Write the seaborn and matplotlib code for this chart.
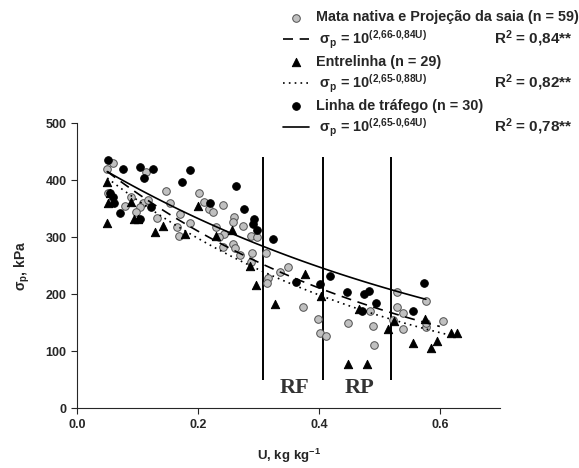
import numpy as np
import pandas as pd
import seaborn as sns
import matplotlib.pyplot as plt

# Mata nativa e Projecao da saia (grey circles)
mata_u = [0.049, 0.059, 0.114, 0.148, 0.090, 0.052, 0.057, 0.109, 0.104, 0.118,
          0.098, 0.132, 0.165, 0.169, 0.154, 0.187, 0.202, 0.210, 0.219, 0.225,
          0.242, 0.259, 0.258, 0.274, 0.243, 0.241, 0.258, 0.261, 0.288, 0.297,
          0.289, 0.288, 0.312, 0.316, 0.314, 0.349, 0.373, 0.399, 0.402, 0.412,
          0.448, 0.484, 0.490, 0.491, 0.529, 0.529, 0.539, 0.539, 0.577, 0.578,
          0.577, 0.605, 0.523, 0.235, 0.270, 0.230, 0.335, 0.170, 0.080]
mata_s = [420, 430, 415, 380, 371, 378, 362, 359, 353, 365,
          344, 333, 317, 302, 359, 325, 378, 362, 350, 344,
          357, 336, 327, 319, 305, 282, 288, 280, 302, 300,
          272, 257, 272, 228, 219, 248, 178, 156, 132, 126,
          150, 171, 144, 111, 204, 178, 166, 138, 188, 143,
          150, 153, 154, 300, 268, 318, 238, 340, 355]

# Entrelinha (triangles)
entre_u = [0.049, 0.055, 0.052, 0.049, 0.089, 0.094, 0.101, 0.129, 0.143, 0.179,
           0.200, 0.230, 0.257, 0.286, 0.296, 0.327, 0.377, 0.404, 0.448, 0.480,
           0.466, 0.515, 0.524, 0.555, 0.575, 0.586, 0.596, 0.619, 0.628]
entre_s = [397, 377, 359, 325, 362, 331, 331, 309, 319, 305,
           354, 302, 313, 249, 216, 182, 236, 196, 77, 77,
           174, 138, 153, 114, 156, 106, 118, 131, 131]

# Linha de trafego (black circles)
linha_u = [0.052, 0.076, 0.104, 0.126, 0.110, 0.173, 0.187, 0.055, 0.071, 0.123,
           0.104, 0.263, 0.277, 0.293, 0.291, 0.297, 0.324, 0.220, 0.419, 0.402,
           0.446, 0.475, 0.483, 0.494, 0.472, 0.555, 0.574, 0.363, 0.060, 0.062]
linha_s = [435, 420, 423, 419, 403, 397, 418, 377, 343, 353,
           332, 389, 349, 332, 323, 312, 296, 360, 232, 217,
           204, 201, 206, 185, 171, 171, 220, 222, 370, 360]

# fitted models sigma_p = 10^(a - b*U), from the legend
fit_a = [2.66, 2.65, 2.65]
fit_b = [0.84, 0.88, 0.64]
fit_range = [(0.05, 0.60), (0.05, 0.615), (0.05, 0.577)]
fit_r2 = ['0,84', '0,82', '0,78']

zones_u = [0.307, 0.407, 0.519]
zone_names = ['RF', 'RP']
zone_label_u = [0.360, 0.468]

df = pd.concat([
    pd.DataFrame({'U': mata_u, 'sp': mata_s, 'grupo': 'mata'}),
    pd.DataFrame({'U': entre_u, 'sp': entre_s, 'grupo': 'entre'}),
    pd.DataFrame({'U': linha_u, 'sp': linha_s, 'grupo': 'linha'}),
])

sns.set_style('ticks')
plt.rcParams['font.family'] = ['Liberation Sans', 'DejaVu Sans']
plt.rcParams['font.weight'] = 'bold'
plt.rcParams['mathtext.fontset'] = 'custom'
plt.rcParams['mathtext.rm'] = 'Liberation Sans:bold'
plt.rcParams['mathtext.bf'] = 'Liberation Sans:bold'
plt.rcParams['mathtext.it'] = 'Liberation Sans:bold'
plt.rcParams['mathtext.sf'] = 'Liberation Sans:bold'

fig = plt.figure(figsize=(5.79, 4.68), dpi=100)
ax = fig.add_axes([0.133, 0.128, 0.731, 0.609])

curves = []
for a, b, (u0, u1) in zip(fit_a, fit_b, fit_range):
    uu = np.linspace(u0, u1, 60)
    curves.append(pd.DataFrame({'U': uu, 'sp': 10 ** (a - b * uu)}))

def eq_label(a, b):
    return (r' $\sigma_{p}$ = 10$^{(%s\text{-}%s U)}$'
            % (f'{a:.2f}'.replace('.', '{,}'), f'{b:.2f}'.replace('.', '{,}')))

styles = [(0, (6, 4)), (0, (1, 2.5)), '-']
groups = [('mata', 'o', '#c0c0c0', '#505050', 'Mata nativa e Projeção da saia (n = 59)'),
          ('entre', '^', 'black', 'black', 'Entrelinha (n = 29)'),
          ('linha', 'o', 'black', 'black', 'Linha de tráfego (n = 30)')]

for i, (g, mk, fc, ec, lab) in enumerate(groups):
    sub = df[df['grupo'] == g]
    sns.scatterplot(data=sub, x='U', y='sp', marker=mk, color=fc, edgecolor=ec,
                    linewidth=0.7, s=30 if mk == 'o' else 36, ax=ax, label=lab,
                    zorder=3)
    sns.lineplot(data=curves[i], x='U', y='sp', color='black', linewidth=1.2,
                 linestyle=styles[i], ax=ax, label=eq_label(fit_a[i], fit_b[i]),
                 zorder=4)

ax.vlines(zones_u, 50, 440, color='black', linewidth=1.4, zorder=2)
for name, u in zip(zone_names, zone_label_u):
    ax.text(u, 35, name, family='Liberation Serif', fontsize=16,
            fontweight='bold', color='#333333', ha='center', va='center')

ax.set_xlim(0, 0.7)
ax.set_ylim(0, 500)
ax.set_xticks([0.0, 0.2, 0.4, 0.6])
ax.set_xticklabels(['0.0', '0.2', '0.4', '0.6'])
ax.set_yticks([0, 100, 200, 300, 400, 500])
ax.tick_params(labelsize=9, length=4, width=0.8, direction='out')
for sp in ['left', 'bottom']:
    ax.spines[sp].set_linewidth(0.8)
sns.despine(ax=ax)
ax.set_xlabel(r'U, kg kg$^{-1}$', fontsize=9.5, fontweight='bold', labelpad=12)
ax.set_ylabel(r'$\sigma_{p}$, kPa', fontsize=10, fontweight='bold', labelpad=10)

handles, labels = ax.get_legend_handles_labels()
leg = ax.legend(handles, labels, loc='upper left', bbox_to_anchor=(0.489, 0.978),
                bbox_transform=fig.transFigure, frameon=False, fontsize=10.4,
                handlelength=1.8, handletextpad=0.5, labelspacing=0.28,
                borderaxespad=0, borderpad=0)

fig.canvas.draw()
for k, t in enumerate(leg.get_texts()[1::2]):
    bb = t.get_window_extent()
    yc = (bb.y0 + bb.y1) / 2 / fig.bbox.height
    fig.text(0.988, yc + 0.002, r'R$^{2}$ = %s**' % fit_r2[k], fontsize=11,
             fontweight='bold', va='center', ha='right')

fig.savefig('out.png', dpi=100)
